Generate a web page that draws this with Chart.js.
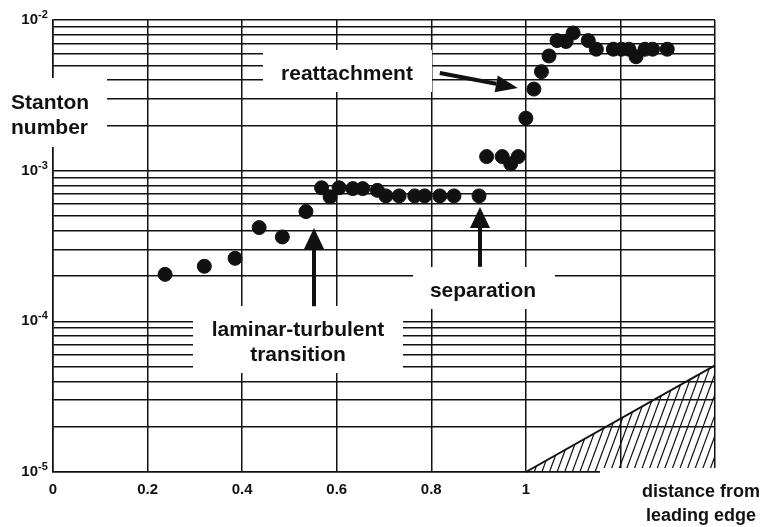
<!DOCTYPE html>
<html>
<head>
<meta charset="utf-8">
<title>Stanton number</title>
<script src="https://cdn.jsdelivr.net/npm/chart.js@4/dist/chart.umd.min.js"></script>
<style>
  html, body { margin: 0; padding: 0; background: #fff; }
  #wrap { width: 760px; height: 527px; position: relative; }
</style>
</head>
<body>
<div id="wrap"><canvas id="stantonChart"></canvas></div>
<script>
// Mesured points: distance from leading edge vs Stanton number
const distance = [0.237, 0.320, 0.385, 0.436, 0.485, 0.535, 0.568, 0.586, 0.605, 0.634,
                  0.655, 0.686, 0.704, 0.732, 0.765, 0.786, 0.818, 0.848, 0.901,
                  0.917, 0.950, 0.968, 0.984, 1.000, 1.017, 1.033, 1.049, 1.066, 1.085,
                  1.100, 1.132, 1.149, 1.185, 1.202, 1.218, 1.233, 1.252, 1.268, 1.299];
const stanton = [2.05e-4, 2.32e-4, 2.62e-4, 4.19e-4, 3.63e-4, 5.35e-4, 7.7e-4, 6.7e-4, 7.7e-4, 7.6e-4,
                 7.6e-4, 7.4e-4, 6.8e-4, 6.8e-4, 6.8e-4, 6.8e-4, 6.8e-4, 6.8e-4, 6.8e-4,
                 1.24e-3, 1.24e-3, 1.11e-3, 1.24e-3, 2.23e-3, 3.48e-3, 4.54e-3, 5.77e-3, 7.3e-3, 7.2e-3,
                 8.2e-3, 7.3e-3, 6.4e-3, 6.4e-3, 6.4e-3, 6.4e-3, 5.7e-3, 6.4e-3, 6.4e-3, 6.4e-3];

// axis ticks
const xTicks = [0, 0.2, 0.4, 0.6, 0.8, 1.0, 1.2, 1.4];
const decades = [1e-5, 1e-4, 1e-3, 1e-2];
const decadeExp = ['-5', '-4', '-3', '-2'];

// hatched region (triangle)
const hatchX = [1.0, 1.4, 1.4];
const hatchY = [1e-5, 5.1e-5, 1e-5];

// arrows: [x tail, y tail, x tip, y tip] in data units
const arrows = [
  [0.552, 1.26e-4, 0.552, 4.17e-4],   // laminar-turbulent transition
  [0.903, 2.30e-4, 0.903, 5.74e-4],   // separation
  [0.818, 4.45e-3, 0.983, 3.54e-3]    // reattachment
];

const FONT = '"Liberation Sans", Arial, Helvetica, sans-serif';
const INK = '#111';

// minor log grid: 1..9 x 10^n
function logGridValues() {
  const vals = [];
  for (let e = -5; e < -2; e++) {
    for (let s = 1; s <= 9; s++) vals.push(+(s * Math.pow(10, e)).toPrecision(3));
  }
  vals.push(1e-2);
  return vals;
}

function drawArrow(ctx, x0, y0, x1, y1, headLen, headW) {
  const ang = Math.atan2(y1 - y0, x1 - x0);
  const bx = x1 - Math.cos(ang) * headLen;
  const by = y1 - Math.sin(ang) * headLen;
  ctx.beginPath();
  ctx.moveTo(x0, y0);
  ctx.lineTo(bx, by);
  ctx.lineWidth = 4;
  ctx.strokeStyle = INK;
  ctx.stroke();
  const nx = -Math.sin(ang) * headW / 2, ny = Math.cos(ang) * headW / 2;
  ctx.beginPath();
  ctx.moveTo(x1, y1);
  ctx.lineTo(bx + nx, by + ny);
  ctx.lineTo(bx - nx, by - ny);
  ctx.closePath();
  ctx.fillStyle = INK;
  ctx.fill();
}

const decorPlugin = {
  id: 'decor',
  beforeDatasetsDraw(chart) {
    const ctx = chart.ctx;
    const xs = chart.scales.x, ys = chart.scales.y;
    ctx.save();

    // hatched triangle
    const pts = hatchX.map((v, i) => [xs.getPixelForValue(v), ys.getPixelForValue(hatchY[i])]);
    ctx.save();
    ctx.beginPath();
    ctx.moveTo(pts[0][0], pts[0][1]);
    ctx.lineTo(pts[1][0], pts[1][1]);
    ctx.lineTo(pts[2][0], pts[2][1]);
    ctx.closePath();
    ctx.clip();
    const bottom = pts[0][1], h = bottom - pts[1][1] + 10;
    ctx.lineWidth = 1.2;
    ctx.strokeStyle = INK;
    for (let o = pts[0][0] - 60; o < pts[1][0] + 5; o += 7.6) {
      ctx.beginPath();
      ctx.moveTo(o, bottom);
      ctx.lineTo(o + 0.37 * h, bottom - h);
      ctx.stroke();
    }
    ctx.restore();
    ctx.beginPath();
    ctx.moveTo(pts[0][0], pts[0][1]);
    ctx.lineTo(pts[1][0], pts[1][1]);
    ctx.lineWidth = 2;
    ctx.strokeStyle = INK;
    ctx.stroke();

    // white label boxes over the grid
    ctx.fillStyle = '#fff';
    ctx.fillRect(0, 78, 107, 69);
    ctx.fillRect(263, 50, 169, 42);
    ctx.fillRect(193, 306, 210, 67);
    ctx.fillRect(413, 267, 142, 42);
    ctx.fillRect(600, 468, 160, 59);

    ctx.fillStyle = INK;
    ctx.font = 'bold 21px ' + FONT;
    ctx.textBaseline = 'alphabetic';
    ctx.textAlign = 'left';
    ctx.fillText('Stanton', 11, 109);
    ctx.fillText('number', 11, 134);
    ctx.textAlign = 'center';
    ctx.fillText('reattachment', 347, 80);
    ctx.fillText('laminar-turbulent', 298, 336);
    ctx.fillText('transition', 298, 361);
    ctx.fillText('separation', 483, 297);

    ctx.font = 'bold 18px ' + FONT;
    ctx.fillText('distance from', 701, 497);
    ctx.fillText('leading edge', 701, 521);

    // y tick labels as 10^n
    decades.forEach((v, i) => {
      const y = ys.getPixelForValue(v);
      ctx.textAlign = 'right';
      ctx.font = 'bold 15px ' + FONT;
      ctx.fillText('10', 38, y + 4);
      ctx.textAlign = 'left';
      ctx.font = 'bold 11px ' + FONT;
      ctx.fillText(decadeExp[i], 38, y - 2);
    });
    ctx.restore();
  },
  afterDatasetsDraw(chart) {
    const ctx = chart.ctx;
    const xs = chart.scales.x, ys = chart.scales.y;
    ctx.save();
    arrows.forEach((a, i) => {
      const x0 = xs.getPixelForValue(a[0]), y0 = ys.getPixelForValue(a[1]);
      const x1 = xs.getPixelForValue(a[2]), y1 = ys.getPixelForValue(a[3]);
      if (i === 2) drawArrow(ctx, x0, y0, x1, y1, 22, 17);
      else drawArrow(ctx, x0, y0, x1, y1, 21, 20);
    });
    ctx.restore();
  }
};

new Chart(document.getElementById('stantonChart'), {
  type: 'scatter',
  data: {
    datasets: [{
      data: distance.map((x, i) => ({ x: x, y: stanton[i] })),
      backgroundColor: INK,
      borderColor: INK,
      pointRadius: 7,
      pointHoverRadius: 7,
      showLine: false
    }]
  },
  options: {
    responsive: true,
    maintainAspectRatio: false,
    animation: false,
    layout: { padding: { top: 20, right: 45, left: 0, bottom: 0 } },
    plugins: { legend: { display: false }, tooltip: { enabled: false } },
    scales: {
      x: {
        type: 'linear',
        min: 0,
        max: 1.4,
        afterBuildTicks: s => { s.ticks = xTicks.map(v => ({ value: v })); },
        afterFit: s => { s.height = 55; },
        grid: { color: INK, lineWidth: 1.5, drawTicks: false },
        border: { display: true, color: INK, width: 1.5 },
        ticks: {
          padding: 9,
          color: INK,
          maxRotation: 0,
          autoSkip: false,
          font: { family: FONT, size: 15, weight: 'bold' },
          callback: v => (v > 1.05 ? '' : String(Number(v.toFixed(1))))
        }
      },
      y: {
        type: 'logarithmic',
        min: 1e-5,
        max: 1e-2,
        afterBuildTicks: s => { s.ticks = logGridValues().map(v => ({ value: v })); },
        afterFit: s => { s.width = 53; },
        grid: { color: INK, lineWidth: 1.5, drawTicks: false },
        border: { display: true, color: INK, width: 1.5 },
        ticks: { display: false }
      }
    }
  },
  plugins: [decorPlugin]
});
</script>
</body>
</html>
